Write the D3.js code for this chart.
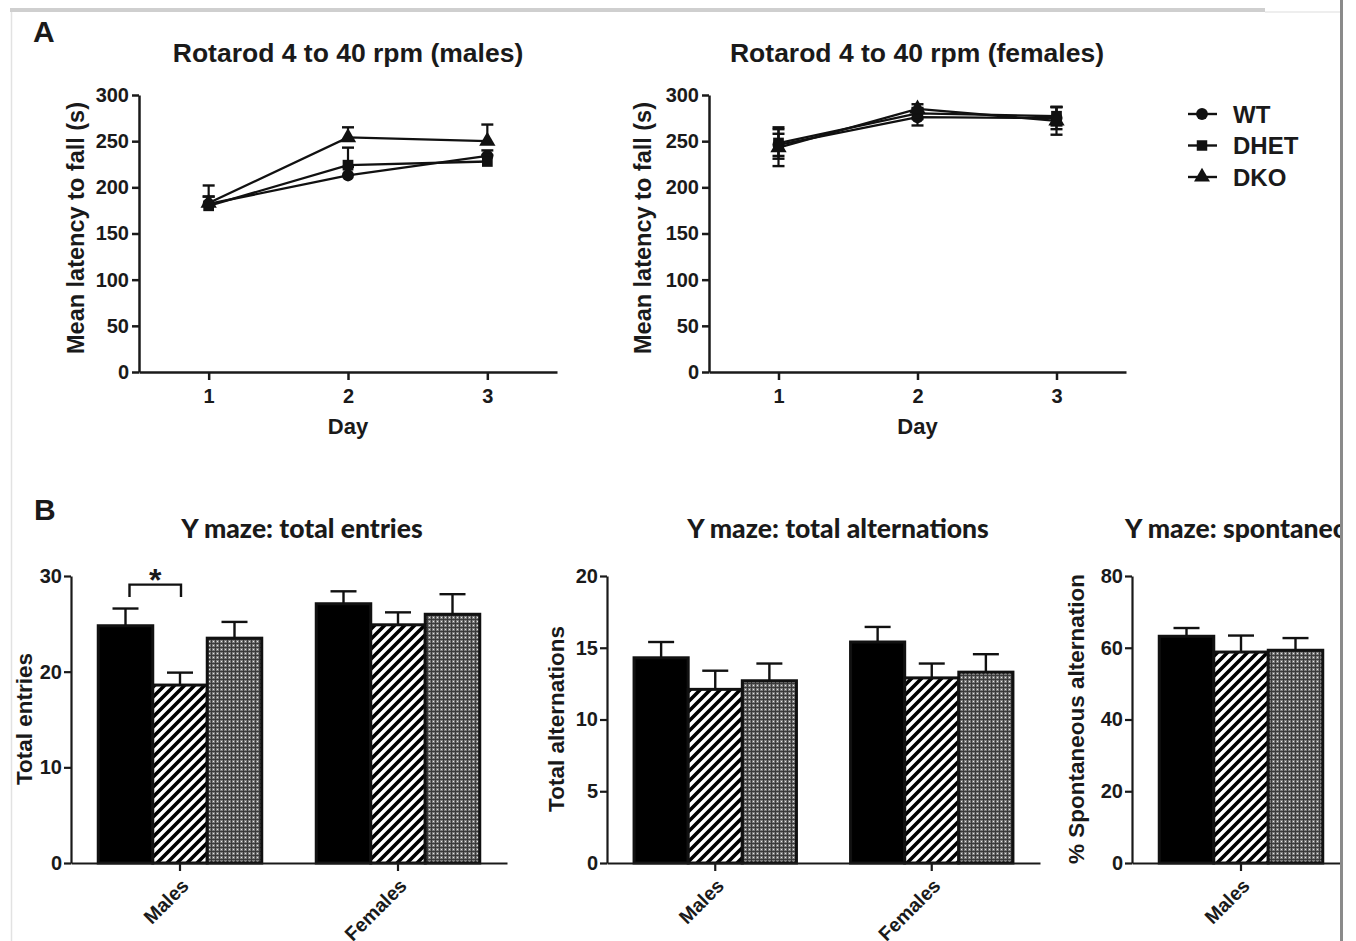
<!DOCTYPE html>
<html>
<head>
<meta charset="utf-8">
<script src="https://cdn.jsdelivr.net/npm/d3@7"></script>
<style>
  body { margin: 0; background: #fff; }
  svg { display: block; }
  .tick text { font-family: "Liberation Sans", Arial, sans-serif; font-weight: bold; fill: #1a1a1a; }
</style>
</head>
<body>
<div id="chart"></div>
<script>
// ---- data ----
const days = [1, 2, 3];
const groups = ["WT", "DHET", "DKO"];
const groupShapes = [d3.symbolCircle, d3.symbolSquare, d3.symbolTriangle];

// rotarod, males (mean, SEM shown upward only)
const malesWT = [182, 213, 234];
const malesDHET = [180, 224, 228];
const malesDKO = [183, 254, 250];
const malesWTsem = [8, 9, 6];
const malesDHETsem = [10, 19, 7];
const malesDKOsem = [19, 11, 18];

// rotarod, females (mean, SEM both ways)
const femalesWT = [246, 276, 275];
const femalesDHET = [248, 280, 277];
const femalesDKO = [243, 285, 272];
const femalesWTsem = [12, 9, 12];
const femalesDHETsem = [17, 6, 10];
const femalesDKOsem = [20, 5, 15];

const rotaTicks = [0, 50, 100, 150, 200, 250, 300];

// Y maze
const sexes = ["Males", "Females"];
const entriesMales = [24.8, 18.6, 23.5];
const entriesMalesSem = [1.8, 1.3, 1.7];
const entriesFemales = [27.1, 24.9, 26.0];
const entriesFemalesSem = [1.3, 1.3, 2.1];
const entriesTicks = [0, 10, 20, 30];

const altMales = [14.3, 12.1, 12.7];
const altMalesSem = [1.1, 1.3, 1.2];
const altFemales = [15.4, 12.9, 13.3];
const altFemalesSem = [1.05, 1.0, 1.25];
const altTicks = [0, 5, 10, 15, 20];

const spontMales = [63.2, 58.8, 59.3];
const spontMalesSem = [2.3, 4.6, 3.4];
const spontTicks = [0, 20, 40, 60, 80];

// ---- setup ----
const width = 1356, height = 941;
const FONT = '"Liberation Sans", Arial, sans-serif';
const TFONT = 'Lato, "Open Sans", sans-serif';

const svg = d3.select("#chart").append("svg")
  .attr("width", width).attr("height", height);

const defs = svg.append("defs");
defs.append("clipPath").attr("id", "pageclip")
  .append("rect").attr("x", 0).attr("y", 0).attr("width", 1340).attr("height", height);

const hatch = defs.append("pattern").attr("id", "hatch")
  .attr("patternUnits", "userSpaceOnUse").attr("width", 10).attr("height", 10);
hatch.append("rect").attr("width", 10).attr("height", 10).attr("fill", "#fff");
hatch.append("path").attr("d", "M-3,3 L3,-3 M0,10 L10,0 M7,13 L13,7")
  .attr("stroke", "#000").attr("stroke-width", 3.6);

const dots = defs.append("pattern").attr("id", "dots")
  .attr("patternUnits", "userSpaceOnUse").attr("width", 4).attr("height", 4);
dots.append("rect").attr("width", 4).attr("height", 4).attr("fill", "#7c7c7c");
dots.append("rect").attr("x", 3).attr("width", 1).attr("height", 4).attr("fill", "#3a3a3a");
dots.append("rect").attr("y", 3).attr("width", 4).attr("height", 1).attr("fill", "#3a3a3a");
dots.append("rect").attr("x", 1).attr("y", 1).attr("width", 1).attr("height", 1).attr("fill", "#e8e8e8");

const barFills = ["#000", "url(#hatch)", "url(#dots)"];

// page frame
svg.append("rect").attr("x", 10).attr("y", 8).attr("width", 1255).attr("height", 4).attr("fill", "#cfcfcf");
svg.append("line").attr("x1", 1265).attr("x2", 1340).attr("y1", 12).attr("y2", 12).attr("stroke", "#ddd").attr("stroke-width", 1);
svg.append("line").attr("x1", 11.5).attr("x2", 11.5).attr("y1", 12).attr("y2", height).attr("stroke", "#e2e2e2").attr("stroke-width", 1.5);
svg.append("line").attr("x1", 1341.5).attr("x2", 1341.5).attr("y1", 0).attr("y2", height).attr("stroke", "#8a8a8a").attr("stroke-width", 3);

const page = svg.append("g").attr("clip-path", "url(#pageclip)");

const label = (g, txt, x, y, size, opts = {}) => g.append("text")
  .attr("transform", `translate(${x},${y})` + (opts.rotate ? ` rotate(${opts.rotate})` : ""))
  .attr("text-anchor", opts.anchor || "middle")
  .attr("font-family", opts.family || FONT)
  .attr("font-weight", opts.weight || "bold")
  .attr("font-size", size)
  .attr("fill", "#1a1a1a")
  .text(txt);

label(page, "A", 33, 42, 30, { anchor: "start" });
label(page, "B", 34, 520, 30, { anchor: "start" });

// ---- rotarod line panels ----
const rotaPanel = (cfg) => {
  const x = d3.scaleLinear().domain([0.5, 3.5]).range(cfg.xr);
  const y = d3.scaleLinear().domain([0, 300]).range([372, 95]);
  const g = page.append("g");

  g.append("g").attr("transform", `translate(${cfg.xr[0]},0)`)
    .call(d3.axisLeft(y).tickValues(rotaTicks).tickSize(7).tickSizeOuter(0).tickPadding(3))
    .call(a => a.selectAll("path,line").attr("stroke", "#1a1a1a").attr("stroke-width", 2.5))
    .call(a => a.selectAll("text").attr("font-size", 20));
  g.append("g").attr("transform", "translate(0,372)")
    .call(d3.axisBottom(x).tickValues(days).tickFormat(d3.format("d")).tickSize(8).tickSizeOuter(0).tickPadding(9))
    .call(a => a.selectAll("path,line").attr("stroke", "#1a1a1a").attr("stroke-width", 2.5))
    .call(a => a.selectAll("text").attr("font-size", 20));

  label(g, cfg.title, cfg.titleX, 62, 26.5);
  label(g, "Day", x(2), 434, 22);
  label(g, "Mean latency to fall (s)", cfg.ylabX, 228, 23.5, { rotate: -90 });

  const line = d3.line().x((d, i) => x(days[i])).y(d => y(d));
  cfg.series.forEach((s, k) => {
    g.append("path").datum(s.mean)
      .attr("fill", "none").attr("stroke", "#111").attr("stroke-width", 2.3)
      .attr("d", line);
    s.mean.forEach((m, i) => {
      const cx = x(days[i]);
      const lo = cfg.both ? m - s.sem[i] : m;
      const hi = m + s.sem[i];
      g.append("line").attr("x1", cx).attr("x2", cx).attr("y1", y(lo)).attr("y2", y(hi))
        .attr("stroke", "#111").attr("stroke-width", 2.2);
      g.append("line").attr("x1", cx - 6).attr("x2", cx + 6).attr("y1", y(hi)).attr("y2", y(hi))
        .attr("stroke", "#111").attr("stroke-width", 2.4);
      if (cfg.both) {
        g.append("line").attr("x1", cx - 6).attr("x2", cx + 6).attr("y1", y(lo)).attr("y2", y(lo))
          .attr("stroke", "#111").attr("stroke-width", 2.4);
      }
      g.append("path").attr("transform", `translate(${cx},${y(m)})`)
        .attr("d", d3.symbol().type(groupShapes[k]).size(115)()).attr("fill", "#111");
    });
  });
};

rotaPanel({
  title: "Rotarod 4 to 40 rpm (males)", titleX: 348, xr: [139, 557], ylabX: 84, both: false,
  series: [
    { mean: malesWT, sem: malesWTsem },
    { mean: malesDHET, sem: malesDHETsem },
    { mean: malesDKO, sem: malesDKOsem }
  ]
});
rotaPanel({
  title: "Rotarod 4 to 40 rpm (females)", titleX: 917, xr: [709, 1126], ylabX: 651, both: true,
  series: [
    { mean: femalesWT, sem: femalesWTsem },
    { mean: femalesDHET, sem: femalesDHETsem },
    { mean: femalesDKO, sem: femalesDKOsem }
  ]
});

// legend
const legY = d3.scalePoint().domain(groups).range([114, 177]);
groups.forEach((grp, k) => {
  const ly = legY(grp);
  page.append("line").attr("x1", 1188).attr("x2", 1217).attr("y1", ly).attr("y2", ly)
    .attr("stroke", "#111").attr("stroke-width", 2.4);
  page.append("path").attr("transform", `translate(1202,${ly})`)
    .attr("d", d3.symbol().type(groupShapes[k]).size(110)()).attr("fill", "#111");
  label(page, grp, 1233, ly + 8.5, 24, { anchor: "start" });
});

// ---- Y maze bar panels ----
const barPanel = (cfg) => {
  const y = d3.scaleLinear().domain([0, cfg.ticks[cfg.ticks.length - 1]]).range([863, 576]);
  const x0 = d3.scaleBand().domain(cfg.cats).range(cfg.xr).paddingInner(0.25).paddingOuter(0.125);
  const x1 = d3.scaleBand().domain(groups).range([0, x0.bandwidth()]);
  const g = page.append("g");

  cfg.cats.forEach((c, ci) => {
    const vals = cfg.means[ci], sems = cfg.sems[ci];
    groups.forEach((grp, k) => {
      const bx = x0(c) + x1(grp);
      const cx = bx + x1.bandwidth() / 2;
      g.append("line").attr("x1", cx).attr("x2", cx).attr("y1", y(vals[k])).attr("y2", y(vals[k] + sems[k]))
        .attr("stroke", "#111").attr("stroke-width", 2.4);
      g.append("line").attr("x1", cx - 13).attr("x2", cx + 13).attr("y1", y(vals[k] + sems[k])).attr("y2", y(vals[k] + sems[k]))
        .attr("stroke", "#111").attr("stroke-width", 2.4);
      g.append("rect").attr("x", bx).attr("y", y(vals[k]))
        .attr("width", x1.bandwidth()).attr("height", y(0) - y(vals[k]))
        .attr("fill", barFills[k]).attr("stroke", "#111").attr("stroke-width", 3);
    });
  });

  g.append("g").attr("transform", `translate(${cfg.xr[0]},0)`)
    .call(d3.axisLeft(y).tickValues(cfg.ticks).tickSize(7).tickSizeOuter(0).tickPadding(2))
    .call(a => a.selectAll("path,line").attr("stroke", "#1a1a1a").attr("stroke-width", 2.2))
    .call(a => a.selectAll("text").attr("font-size", 20));
  g.append("g").attr("transform", "translate(0,863)")
    .call(d3.axisBottom(x0).tickSize(8).tickSizeOuter(0))
    .call(a => a.selectAll("path,line").attr("stroke", "#1a1a1a").attr("stroke-width", 2.2))
    .call(a => a.selectAll("text").remove());

  cfg.cats.forEach(c => {
    const cx = x0(c) + x0.bandwidth() / 2;
    label(g, c, cx + 10, 887, 19.5, { anchor: "end", rotate: -45 });
  });

  label(g, cfg.title, cfg.titleX, 538, 26.5, { family: TFONT, anchor: cfg.titleAnchor || "middle", weight: 900 });
  label(g, cfg.ylab, cfg.ylabX, 719, 22.5, { rotate: -90 });
  return { x0, x1, y, g };
};

const p1 = barPanel({
  title: "Y maze: total entries", titleX: 302, ylab: "Total entries", ylabX: 32,
  xr: [71, 507], cats: sexes, ticks: entriesTicks,
  means: [entriesMales, entriesFemales], sems: [entriesMalesSem, entriesFemalesSem]
});
barPanel({
  title: "Y maze: total alternations", titleX: 838, ylab: "Total alternations", ylabX: 564,
  xr: [607, 1040], cats: sexes, ticks: altTicks,
  means: [altMales, altFemales], sems: [altMalesSem, altFemalesSem]
});
barPanel({
  title: "Y maze: spontaneous alternation", titleX: 1125, titleAnchor: "start",
  ylab: "% Spontaneous alternation", ylabX: 1084,
  xr: [1132, 1350], cats: ["Males"], ticks: spontTicks,
  means: [spontMales], sems: [spontMalesSem]
});

// significance bracket WT vs DHET, males
{
  const { x0, x1, y, g } = p1;
  const a = x0("Males") + x1("WT") + x1.bandwidth() / 2 + 4;
  const b = x0("Males") + x1("DHET") + x1.bandwidth() / 2 + 1;
  g.append("path")
    .attr("d", `M${a},${y(27.8)} V${y(29.1)} H${b} V${y(27.8)}`)
    .attr("fill", "none").attr("stroke", "#111").attr("stroke-width", 2.4);
  label(g, "*", (a + b) / 2, y(29.5) + 10, 32, { weight: "bold" });
}
</script>
</body>
</html>
